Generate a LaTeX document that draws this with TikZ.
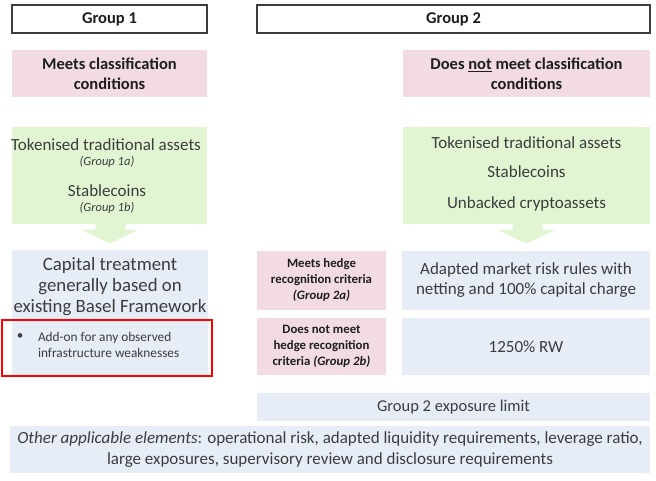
\documentclass[tikz,border=0pt]{standalone}
\usepackage{fontspec}
\setmainfont{Carlito}
\usetikzlibrary{calc}
\definecolor{pinkc}{HTML}{F2DCE2}
\definecolor{greenc}{HTML}{E2F5D3}
\definecolor{bluec}{HTML}{E6EDF7}
\definecolor{txt}{HTML}{3C3C3C}
\definecolor{hdr}{HTML}{1E1E1E}
\definecolor{frame}{HTML}{3C3C3C}
\begin{document}
\begin{tikzpicture}[x=1pt,y=-1pt,
  base/.style={rectangle, inner sep=0pt, outer sep=0pt, text=txt, align=center},
  grp/.style={base, draw=frame, line width=1.3pt, fill=white, text=hdr, font=\fontsize{16.5}{18}\selectfont\bfseries},
  pinkbox/.style={base, fill=pinkc},
  greenbox/.style={base, fill=greenc},
  bluebox/.style={base, fill=bluec},
  lbl/.style={inner sep=0pt, outer sep=0pt, text=txt, align=center},
  greenarrow/.style={fill=greenc, draw=none},
  redframe/.style={draw=red, line width=1.5pt}
]
\useasboundingbox (0,0) rectangle (656,480);

% group headers
\node[grp, minimum width=195pt, minimum height=28pt] (g1) at (109.5,19) {Group 1};
\node[grp, minimum width=393pt, minimum height=28pt] (g2) at (453.5,19) {Group 2};

% classification conditions
\node[pinkbox, minimum width=195pt, minimum height=47pt, text=hdr,
      font=\fontsize{16.5}{20}\selectfont\bfseries] (c1) at (109.5,73.5) {Meets classification\\conditions};
\node[pinkbox, minimum width=247pt, minimum height=47pt, text=hdr,
      font=\fontsize{16.5}{20}\selectfont\bfseries] (c2) at (526.5,73.5) {Does \underline{not} meet classification\\conditions};

% asset boxes
\node[greenbox, minimum width=195pt, minimum height=97pt] (t1) at (109.5,175) {};
\node[lbl, font=\fontsize{17}{19}\selectfont] (t1a) at (106,145) {Tokenised traditional assets};
\node[lbl, font=\fontsize{12.5}{14}\selectfont\itshape] (t1b) at (107,162) {(Group 1a)};
\node[lbl, font=\fontsize{17}{19}\selectfont] (t1c) at (107,191) {Stablecoins};
\node[lbl, font=\fontsize{12.5}{14}\selectfont\itshape] (t1d) at (107,208) {(Group 1b)};

\node[greenbox, minimum width=247pt, minimum height=97pt] (t2) at (526.5,175) {};
\node[lbl, font=\fontsize{17}{19}\selectfont] (t2a) at (526.5,143) {Tokenised traditional assets};
\node[lbl, font=\fontsize{17}{19}\selectfont] (t2b) at (526.5,172) {Stablecoins};
\node[lbl, font=\fontsize{17}{19}\selectfont] (t2c) at (526.5,204) {Unbacked cryptoassets};

% block arrows
\fill[greenarrow] ($(t1.south)+(-14,0)$) -- ($(t1.south)+(16,0)$) -- ($(t1.south)+(16,6)$)
  -- ($(t1.south)+(29,6)$) -- ($(t1.south)+(0,20)$) -- ($(t1.south)+(-29,6)$) -- ($(t1.south)+(-14,6)$) -- cycle;
\fill[greenarrow] ($(t2.south)+(-14,0)$) -- ($(t2.south)+(16,0)$) -- ($(t2.south)+(16,6)$)
  -- ($(t2.south)+(30,6)$) -- ($(t2.south)+(0,20)$) -- ($(t2.south)+(-30,6)$) -- ($(t2.south)+(-14,6)$) -- cycle;

% capital treatment (group 1)
\node[bluebox, minimum width=196pt, minimum height=126pt] (cap) at (110,313) {};
\node[lbl, font=\fontsize{18.8}{21}\selectfont] (capt) at (110,287) {Capital treatment\\generally based on\\existing Basel Framework};
\node[lbl, font=\fontsize{13}{14}\selectfont] (bul) at (20,337) {•};
\node[lbl, anchor=west, align=left, font=\fontsize{13.3}{16}\selectfont] (addon) at (38,345) {Add-on for any observed\\infrastructure weaknesses};
\draw[redframe] (2,320) rectangle (212,376);

% hedge criteria (group 2)
\node[pinkbox, minimum width=129pt, minimum height=59pt, text=hdr,
      font=\fontsize{12.8}{16}\selectfont\bfseries] (h1) at (321.5,280.5) {Meets hedge\\recognition criteria\\\textit{(Group 2a)}};
\node[pinkbox, minimum width=129pt, minimum height=57pt, text=hdr,
      font=\fontsize{12.8}{16}\selectfont\bfseries] (h2) at (321.5,346.5) {Does not meet\\hedge recognition\\criteria \textit{(Group 2b)}};

\node[bluebox, minimum width=248pt, minimum height=59pt,
      font=\fontsize{17}{20}\selectfont] (m1) at (526,280.5) {Adapted market risk rules with\\netting and 100\% capital charge};
\node[bluebox, minimum width=248pt, minimum height=57pt,
      font=\fontsize{17}{20}\selectfont] (m2) at (526,346.5) {1250\% RW};

% bottom rows
\node[bluebox, minimum width=393pt, minimum height=28pt,
      font=\fontsize{16.5}{18}\selectfont] (e) at (453.5,407) {Group 2 exposure limit};
\node[bluebox, minimum width=640pt, minimum height=47pt,
      font=\fontsize{17}{21}\selectfont] (o) at (330,449.5) {\textit{Other applicable elements}: operational risk, adapted liquidity requirements, leverage ratio,\\large exposures, supervisory review and disclosure requirements};
\end{tikzpicture}
\end{document}
